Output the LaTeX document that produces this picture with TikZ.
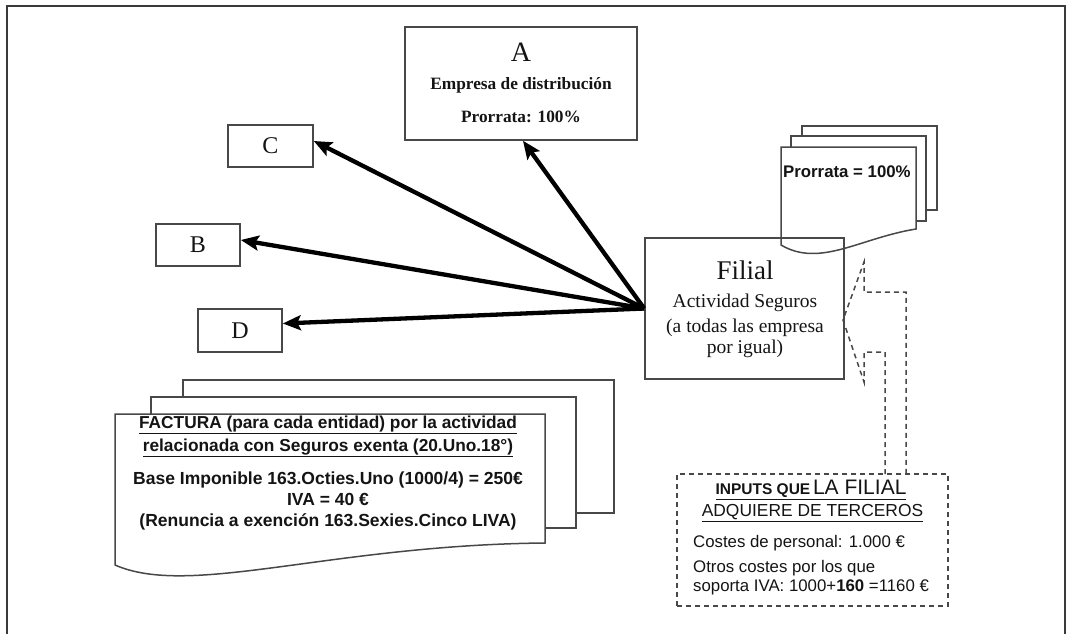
\documentclass[tikz,border=0pt]{standalone}
\usepackage{fontspec}
\setmainfont{Liberation Serif}
\setsansfont{Liberation Sans}
\usetikzlibrary{arrows.meta}
\definecolor{edge}{HTML}{484848}
\definecolor{ink}{HTML}{141414}
\tikzset{
  box/.style={draw=edge, line width=1.6pt, fill=white, inner sep=0pt},
  sheet/.style={draw=edge, line width=1.5pt, fill=white},
  link/.style={draw=black, line width=4.3pt, -{Stealth[length=18pt,width=15pt,inset=3.5pt]}},
  dashbox/.style={draw=edge, line width=1.5pt, dash pattern=on 5pt off 4pt},
  txt/.style={text=ink, inner sep=0pt},
  letter/.style={txt, font=\fontsize{24}{28}\selectfont},
}
\begin{document}
\begin{tikzpicture}[x=1pt,y=-1pt]
\useasboundingbox (0,0) rectangle (1066,634);
% outer frame, open at the bottom
\draw[edge!80!black, line width=2pt] (7,634) -- (7,6) -- (1065,6) -- (1065,634);

% company A
\node[box, minimum width=232pt, minimum height=113pt] (A) at (521,83.5) {};
\node[txt, font=\fontsize{28}{32}\selectfont] (Aname) at (521,52) {A};
\node[txt, font=\bfseries\fontsize{17.3}{20}\selectfont] (Atype) at (521,85) {Empresa de distribución};
\node[txt, font=\bfseries\fontsize{17.3}{20}\selectfont] (Apro) at (521,117) {Prorrata: 100\%};

% companies C, B, D
\node[box, minimum width=85pt, minimum height=42pt] (C) at (270.5,146) {};
\node[letter] (Cname) at (C.center) {C};
\node[box, minimum width=84pt, minimum height=42pt] (B) at (198,245) {};
\node[letter] (Bname) at (B.center) {B};
\node[box, minimum width=84pt, minimum height=43pt] (D) at (240,330.5) {};
\node[letter] (Dname) at (D.center) {D};

% stack of sheets: prorrata
\draw[sheet] (802,126) rectangle (937,210);
\draw[sheet] (791,136) rectangle (926,221);
\draw[sheet] (781,245) -- (781,147) -- (916,147) -- (916,229)
  .. controls (860,238) and (820,268) .. (781,245) -- cycle;
\node[txt, anchor=west, font=\sffamily\bfseries\fontsize{16.8}{20}\selectfont] (Ppro) at (783,172) {Prorrata = 100\%};

% subsidiary
\node[draw=edge, line width=1.6pt, inner sep=0pt, minimum width=199pt, minimum height=141pt] (F) at (744.5,308.5) {};
\node[txt, font=\fontsize{27}{30}\selectfont] (Fname) at (745,270) {Filial};
\node[txt, font=\fontsize{19.5}{22}\selectfont] (Fact) at (745,303) {Actividad Seguros};
\node[txt, align=center, font=\fontsize{19.5}{21}\selectfont] (Fnote) at (745,338) {(a todas las empresa\\por igual)};

% invoices to each company
\draw[link] (F.west) -- ([xshift=2pt]A.south);
\draw[link] (F.west) -- ([yshift=5pt]C.east);
\draw[link] (F.west) -- ([yshift=5pt]B.east);
\draw[link] (F.west) -- ([yshift=7pt]D.east);

% stack of sheets: invoice
\draw[sheet] (183,380) rectangle (614,513);
\draw[sheet] (151,397) rectangle (576,528);
\draw[sheet] (115,565) -- (115,414) -- (545,414) -- (545,543)
  .. controls (330,545) and (190,598) .. (115,565) -- cycle;
\node[txt, align=center, font=\sffamily\bfseries\fontsize{17.3}{23}\selectfont] (Ftitle) at (328,436.5)
  {\underline{FACTURA (para cada entidad) por la actividad}\\\underline{relacionada con Seguros exenta (20.Uno.18°)}};
\node[txt, align=center, font=\sffamily\bfseries\fontsize{17.5}{21}\selectfont] (Fbody) at (328,501)
  {Base Imponible 163.Octies.Uno (1000/4) = 250€\\IVA = 40 €\\(Renuncia a exención 163.Sexies.Cinco LIVA)};

% purchased inputs
\node[dashbox, inner sep=0pt, minimum width=271pt, minimum height=132pt] (I) at (812.5,540) {};
\node[txt, font=\sffamily] (Ititle) at (811,490)
  {\underline{{\bfseries\fontsize{15.5}{18}\selectfont INPUTS QUE} {\fontsize{21}{24}\selectfont LA FILIAL}}};
\node[txt, font=\sffamily\fontsize{17.4}{20}\selectfont] (Ititle2) at (812.5,513) {\underline{ADQUIERE DE TERCEROS}};
\node[txt, anchor=west, font=\sffamily\fontsize{16.8}{19}\selectfont] (Ipers) at (693,543) {Costes de personal: 1.000 €};
\node[txt, anchor=west, align=left, font=\sffamily\fontsize{16.8}{19}\selectfont] (Iotros) at (693,578)
  {Otros costes por los que\\soporta IVA: 1000+\textbf{160} =1160 €};

% dashed block arrow from the inputs to the subsidiary
\draw[dashbox] (885,474) -- (885,352) -- (864,352) -- (864,382) -- (843,320)
  -- (864,262) -- (864,292) -- (906,292) -- (906,474);
\end{tikzpicture}
\end{document}
